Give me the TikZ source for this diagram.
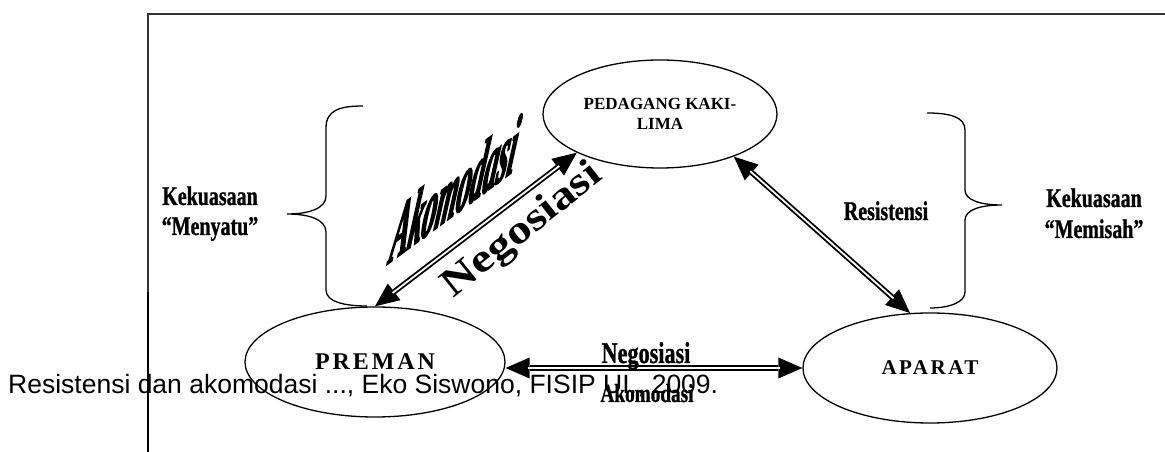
\documentclass[tikz,border=0pt]{standalone}
\usepackage{fontspec}
\setmainfont{Liberation Serif}
\setsansfont{Liberation Sans}
\newfontfamily\condf[FakeStretch=0.74,FakeBold=1]{Liberation Serif}
\newfontfamily\slantf[FakeStretch=0.36,FakeBold=2]{Liberation Serif}
\newfontfamily\widef[FakeStretch=1.2]{Liberation Serif}
\newfontfamily\spacedf[LetterSpace=12]{Liberation Serif}
\usetikzlibrary{arrows.meta,shapes.geometric}
\begin{document}
\begin{tikzpicture}[x=1pt,y=1pt,
  ell/.style={draw, ellipse, line width=1.3pt, inner sep=0pt},
  dblarrow/.style={line width=5.5pt, {Triangle[length=24pt,width=21pt,line width=0pt]}-{Triangle[length=24pt,width=21pt,line width=0pt]}},
  gapline/.style={white, line width=1.8pt, shorten <=22pt, shorten >=22pt},
  bracepath/.style={line width=1.3pt},
  lbl/.style={inner sep=0pt, font=\condf\bfseries\fontsize{27}{30}\selectfont},
  frameline/.style={line width=1.5pt}]
\useasboundingbox (0,0) rectangle (1165,452);
% frame
\draw[frameline, black!80] (148,160) -- (148,438) -- (1165,438);
\draw[frameline, black] (148,0) -- (148,160);
% nodes
\node[ell, minimum width=234pt, minimum height=108pt, align=center,
      font=\bfseries\fontsize{17}{20}\selectfont] (pkl) at (660,338) {PEDAGANG KAKI-\\LIMA};
\node[ell, minimum width=260pt, minimum height=110pt,
      font=\spacedf\bfseries\fontsize{24}{28}\selectfont] (preman) at (375,90) {PREMAN};
\node[ell, minimum width=254pt, minimum height=110pt,
      font=\spacedf\bfseries\fontsize{21}{24}\selectfont] (aparat) at (930,84) {APARAT};
% connectors
\draw[dblarrow] (preman.north) -- (pkl.south west);
\draw[gapline] (preman.north) -- (pkl.south west);
\draw[dblarrow] (pkl.-30) -- (aparat.110);
\draw[gapline] (pkl.-30) -- (aparat.110);
\draw[dblarrow] (preman.east |- aparat.west) -- (aparat.west);
\draw[gapline] (preman.east |- aparat.west) -- (aparat.west);
% braces
\draw[bracepath] (363,346) .. controls (340,346) and (326,342) .. (326,324) -- (326,256)
  .. controls (326,244) and (310,238) .. (287,238)
  .. controls (310,238) and (326,232) .. (326,220) -- (326,162)
  .. controls (326,150) and (345,146) .. (367,146);
\draw[bracepath] (927,339) .. controls (950,339) and (965,335) .. (965,322) -- (965,262)
  .. controls (965,252) and (980,247) .. (1002,247)
  .. controls (980,247) and (965,242) .. (965,232) -- (965,160)
  .. controls (965,150) and (950,144) .. (930,144);
% labels
\node[lbl, anchor=base] (kl1) at (210,247) {Kekuasaan};
\node[lbl, anchor=base] (kl2) at (210,217) {“Menyatu”};
\node[lbl, anchor=base] (kr1) at (1094,245) {Kekuasaan};
\node[lbl, anchor=base] (kr2) at (1094,214) {“Memisah”};
\node[lbl, anchor=base] (res) at (886,232) {Resistensi};
\node[inner sep=0pt, anchor=base, font=\condf\bfseries\fontsize{30}{32}\selectfont] (negh) at (646,89) {Negosiasi};
\node[inner sep=0pt, anchor=base, font=\condf\bfseries\fontsize{26}{28}\selectfont] (akoh) at (647,50) {Akomodasi};
\node[inner sep=0pt, anchor=base west, yslant=0.737, xslant=0.2,
      font=\slantf\bfseries\itshape\fontsize{75}{80}\selectfont] (akod) at (388,188) {Akomodasi};
\node[inner sep=0pt, rotate=38.5,
      font=\widef\bfseries\fontsize{40}{42}\selectfont] (negd) at (523,221) {Negosiasi};
% footer
\node[inner sep=0pt, anchor=base west, font=\sffamily\fontsize{26.5}{30}\selectfont] (foot) at (8,58)
  {Resistensi dan akomodasi ..., Eko Siswono, FISIP UI., 2009.};
\end{tikzpicture}
\end{document}
